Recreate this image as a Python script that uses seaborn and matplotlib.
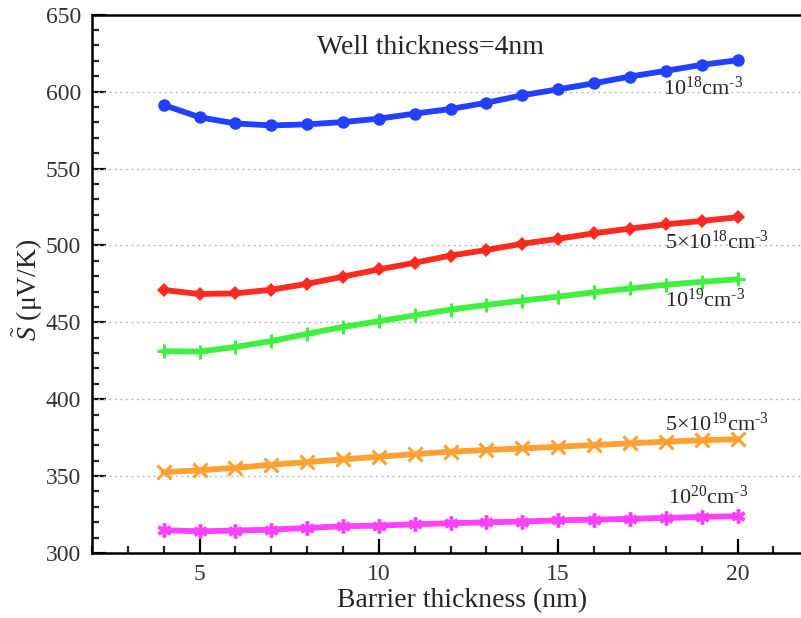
import matplotlib
matplotlib.use("Agg")
import matplotlib.pyplot as plt
import seaborn as sns
import pandas as pd
from matplotlib.ticker import MultipleLocator, FixedLocator

barrier = list(range(4, 21))

s_1e18 = [591.3, 583.3, 579.3, 578.0, 578.7, 580.2, 582.4, 585.7, 588.7, 592.8,
          597.6, 601.5, 605.4, 609.8, 613.5, 617.4, 620.4]
s_5e18 = [471.0, 468.4, 468.8, 471.2, 475.0, 479.7, 484.4, 488.7, 493.4, 497.0,
          501.1, 504.3, 507.9, 510.9, 513.7, 515.9, 518.3]
s_1e19 = [431.2, 431.0, 434.0, 437.8, 442.5, 447.0, 450.7, 454.5, 458.3, 461.3,
          464.1, 466.7, 469.5, 472.0, 474.4, 476.3, 478.0]
s_5e19 = [352.6, 353.8, 355.4, 357.4, 359.1, 360.9, 362.6, 364.3, 365.9, 367.0,
          368.0, 369.1, 370.2, 371.3, 372.4, 373.3, 374.0]
s_1e20 = [314.8, 314.1, 314.6, 315.2, 316.3, 317.4, 317.8, 318.7, 319.3, 320.0,
          320.4, 321.3, 321.7, 322.2, 322.8, 323.5, 323.9]

series_names = ["1e18", "5e18", "1e19", "5e19", "1e20"]
series_values = [s_1e18, s_5e18, s_1e19, s_5e19, s_1e20]
series_labels = [r"10$^{18}$cm$^{\text{-3}}$", r"5$\times$10$^{18}$cm$^{\text{-3}}$",
                 r"10$^{19}$cm$^{\text{-3}}$", r"5$\times$10$^{19}$cm$^{\text{-3}}$",
                 r"10$^{20}$cm$^{\text{-3}}$"]
colors = ["#2140ff", "#ff2a1f", "#3ff03f", "#ffa033", "#ff40ff"]
markers = ["o", "D", "P", "X", (6, 2, 0)]

sns.set_theme(style="white")
plt.rcParams["font.family"] = ["Liberation Serif", "DejaVu Serif"]
plt.rcParams["mathtext.fontset"] = "custom"
plt.rcParams["mathtext.rm"] = "Liberation Serif"
plt.rcParams["mathtext.it"] = "Liberation Serif:italic"
plt.rcParams["mathtext.bf"] = "Liberation Serif:bold"

fig = plt.figure(figsize=(8.01, 6.18), dpi=100)
ax = fig.add_axes([92 / 801, 1 - 553 / 618, 1 - 92 / 801, (553 - 14.7) / 618])

rows = []
for name, vals in zip(series_names, series_values):
    for b, v in zip(barrier, vals):
        rows.append({"barrier": b, "S": v, "series": name})
df = pd.DataFrame(rows)

for name, col, mk in zip(series_names, colors, markers):
    sub = df[df["series"] == name]
    if mk in ("P", "X"):
        mk = "+" if mk == "P" else "x"
        sns.lineplot(data=sub, x="barrier", y="S", ax=ax, color=col, lw=4.2,
                     marker=mk, markersize=10, markeredgewidth=2.2,
                     markeredgecolor=col, zorder=3)
    elif isinstance(mk, tuple):
        sns.lineplot(data=sub, x="barrier", y="S", ax=ax, color=col, lw=4.2,
                     marker=mk, markersize=10, markeredgewidth=2.5,
                     markeredgecolor=col, zorder=3)
    else:
        ms = 9 if mk == "o" else 7
        sns.lineplot(data=sub, x="barrier", y="S", ax=ax, color=col, lw=4.2,
                     marker=mk, markersize=ms, markeredgewidth=0,
                     markerfacecolor=col, zorder=3)

ax.set_xlim(2, 21.77)
ax.set_ylim(300, 650)

ax.xaxis.set_major_locator(FixedLocator([5, 10, 15, 20]))
ax.xaxis.set_minor_locator(MultipleLocator(1))
ax.yaxis.set_major_locator(MultipleLocator(50))
ax.yaxis.set_minor_locator(MultipleLocator(10))

for y in [350, 400, 450, 500, 550, 600]:
    ax.axhline(y, color="#b8b8b8", lw=1.0, ls=(0, (1.5, 2.5)), zorder=1)

ax.tick_params(axis="both", which="major", direction="in", length=10, width=1.6,
               labelsize=17, colors="black", pad=8)
ax.tick_params(axis="both", which="minor", direction="in", length=5, width=1.6)
ax.tick_params(axis="x", which="both", bottom=True, top=False)
ax.tick_params(axis="y", which="both", left=True, right=False)
for lab in ax.get_xticklabels() + ax.get_yticklabels():
    lab.set_color("#333333")

for side in ["left", "bottom", "top"]:
    ax.spines[side].set_visible(True)
    ax.spines[side].set_linewidth(1.8)
    ax.spines[side].set_color("black")
ax.spines["right"].set_visible(False)

ax.set_xlabel("Barrier thickness (nm)", fontsize=20)
ax.set_ylabel(r"$\tilde{S}$ ($\mathrm{\mu}$V/K)", fontsize=20)
ax.xaxis.set_label_coords(0.522, -0.066)
ax.yaxis.set_label_coords(-0.066, 0.489)

ax.text(11.43, 628.5, "Well thickness=4nm", fontsize=20, ha="center", va="center")

label_pos = [(20.17, 602.0), (20.86, 502.0), (20.2, 464.5), (20.86, 383.5), (20.3, 336.5)]
for (lx, ly), txt in zip(label_pos, series_labels):
    ax.text(lx, ly, txt, fontsize=16, ha="right", va="center")

fig.savefig("out.png", dpi=100)
